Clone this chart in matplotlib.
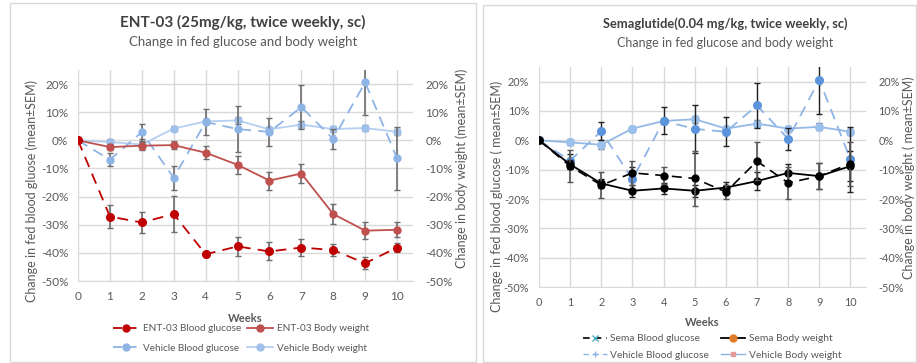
import matplotlib
matplotlib.use("Agg")
import matplotlib.pyplot as plt
from matplotlib.lines import Line2D
import numpy as np

plt.rcParams['font.family'] = ['Lato', 'DejaVu Sans']

weeks = list(range(11))
x_ticks = list(range(11))
y_ticks = [20, 10, 0, -10, -20, -30, -40, -50]

# ---- Left panel: ENT-03 ----
ent_bg = [0, -27.1, -29.2, -26.2, -40.5, -37.7, -39.5, -38.1, -39.0, -43.7, -38.1]
ent_bg_err = [0, 4.0, 3.7, 6.3, 1.0, 3.4, 3.2, 3.0, 2.0, 2.1, 1.7]
ent_bw = [0, -2.4, -1.9, -1.7, -4.4, -8.7, -14.3, -11.8, -26.2, -32.1, -31.8]
ent_bw_err = [0, 1.0, 1.2, 1.4, 2.4, 3.3, 3.2, 3.4, 3.4, 3.0, 2.7]
veh_bg_L = [0, -6.9, 2.9, -13.3, 6.5, 4.0, 3.0, 11.8, 0.5, 20.6, -6.4]
veh_bg_err_L = [0, 2.4, 3.0, 4.3, 4.6, 8.3, 4.9, 7.7, 3.7, 11.5, 11.2]
veh_bw_L = [0, -0.6, -1.5, 4.2, 6.7, 7.1, 3.9, 5.6, 4.0, 4.4, 3.0]
veh_bw_err_L = [0, 1.0, 2.0, 1.0, 1.0, 1.2, 1.0, 1.3, 1.0, 1.2, 1.0]

# ---- Right panel: Semaglutide ----
sema_bg = [0, -8.8, -15.3, -11.1, -12.0, -13.0, -17.6, -7.1, -14.5, -12.2, -7.9]
sema_bg_err = [0, 5.5, 4.5, 4.0, 3.0, 9.5, 2.5, 6.5, 5.5, 4.5, 7.5]
sema_bw = [0, -8.2, -14.7, -17.2, -16.4, -17.2, -16.1, -13.9, -11.1, -12.2, -8.8]
sema_bw_err = [0, 1.5, 1.5, 2.0, 2.0, 2.0, 2.0, 3.0, 3.0, 4.5, 5.0]
veh_bg_R = [0, -6.9, 3.1, -13.3, 6.6, 3.9, 2.9, 11.9, 0.5, 20.6, -6.5]
veh_bg_err_R = [0, 2.4, 3.0, 4.3, 4.6, 8.3, 4.9, 7.8, 3.7, 11.5, 11.2]
veh_bw_R = [0, -0.7, -1.5, 4.0, 6.6, 7.2, 4.0, 5.7, 4.0, 4.6, 2.9]
veh_bw_err_R = [0, 1.0, 1.5, 1.0, 1.0, 1.2, 1.0, 1.3, 1.0, 1.2, 1.0]

W, H = 917, 363
fig = plt.figure(figsize=(W / 100, H / 100), dpi=100)

TICK_C = '#595959'
GRID_C = '#d9d9d9'


def fx(px):
    return px / W


def fy(py):
    return 1 - py / H


def style_axes(ax, tsize, xl_y):
    ax.set_xlim(0, 10.5)
    ax.set_ylim(-50, 25)
    ax.set_xticks(x_ticks)
    ax.set_yticks(y_ticks)
    ax.set_yticklabels([f"{v}%" for v in y_ticks])
    ax.grid(True, color=GRID_C, linewidth=1.0)
    ax.set_axisbelow(True)
    for s in ['top', 'right', 'left']:
        ax.spines[s].set_visible(False)
    ax.spines['bottom'].set_color(GRID_C)
    ax.tick_params(length=0, colors=TICK_C, labelsize=tsize, pad=7)
    ax.set_xlabel('Weeks', color=TICK_C, fontsize=8, fontweight='bold')
    ax.xaxis.set_label_coords(0.5, xl_y)


def add_twin(ax, label, tsize, lsize, lx, ly):
    t = ax.twinx()
    t.set_ylim(-50, 25)
    t.set_yticks(y_ticks)
    t.set_yticklabels([f"{v}%" for v in y_ticks])
    for s in t.spines.values():
        s.set_visible(False)
    t.tick_params(length=0, colors=TICK_C, labelsize=tsize, pad=9)
    t.set_ylabel(label, color=TICK_C, fontsize=lsize, va='center')
    t.yaxis.set_label_coords(lx, ly)
    return t


def draw_panel_border(x0, y0, x1, y1):
    rect = plt.Rectangle((fx(x0), fy(y1)), fx(x1) - fx(x0), fy(y0) - fy(y1),
                         transform=fig.transFigure, fill=False,
                         edgecolor='#d9d9d9', linewidth=1.0)
    fig.add_artist(rect)


draw_panel_border(10, 3, 476, 362)
draw_panel_border(483, 5, 916, 362)

# ---------------- Left panel ----------------
axL = fig.add_axes([fx(78), fy(281), fx(413) - fx(78), fy(70) - fy(281)])
style_axes(axL, 8.5, -(313 - 281) / 211)
ebkw = dict(ecolor='#6d6d6d', elinewidth=1.2, capsize=2.5, capthick=1.0)

axL.errorbar(weeks, veh_bw_L, yerr=veh_bw_err_L, color='#b4cff0', lw=1.3,
             marker='o', ms=5, mec='#9fc0ea', mfc='#9fc0ea', zorder=3, **ebkw)
axL.errorbar(weeks, veh_bg_L, yerr=veh_bg_err_L, color='#8eb4e6', lw=1.3,
             ls=(0, (6, 4)), marker='o', ms=5, mec='#8eb4e6', mfc='#8eb4e6',
             zorder=4, **ebkw)
axL.errorbar(weeks, ent_bw, yerr=ent_bw_err, color='#c0504d', lw=1.3,
             marker='o', ms=5, zorder=5, **ebkw)
axL.errorbar(weeks, ent_bg, yerr=ent_bg_err, color='#c00000', lw=1.3,
             ls=(0, (6, 4)), marker='o', ms=5.5, zorder=6, **ebkw)
axL.set_ylabel('Change in fed blood gluose (mean±SEM)', color=TICK_C,
               fontsize=9, va='center')
axL.yaxis.set_label_coords((32 - 78) / 335, (281 - 191) / 211)
add_twin(axL, 'Change in body weight (mean±SEM)', 8.5, 9,
         (462 - 78) / 335, (281 - 168) / 211)

fig.text(fx(243), fy(22), 'ENT-03 (25mg/kg, twice weekly, sc)', ha='center',
         va='center', fontsize=11, fontweight='bold', color='#404040')
fig.text(fx(243), fy(42), 'Change in fed glucose and body weight', ha='center',
         va='center', fontsize=9.5, color='#595959')

hL = [
    Line2D([], [], color='#c00000', ls=(0, (5, 3)), marker='o', ms=5, lw=1.3),
    Line2D([], [], color='#c0504d', marker='o', ms=5, lw=1.3),
    Line2D([], [], color='#8eb4e6', ls=(0, (5, 3)), marker='o', ms=5, lw=1.3),
    Line2D([], [], color='#b4cff0', marker='o', ms=5, mfc='#9fc0ea', mec='#9fc0ea', lw=1.3),
]
labL = ['ENT-03 Blood glucose', 'Vehicle Blood glucose',
        'ENT-03 Body weight', 'Vehicle Body weight']
fig.legend([hL[0], hL[2], hL[1], hL[3]], labL, ncol=2, frameon=False,
           loc='center', bbox_to_anchor=(fx(241), fy(338.5)), fontsize=7.2,
           labelcolor=TICK_C, handlelength=2.6, columnspacing=0.5,
           handletextpad=0.4, labelspacing=1.05)

# ---------------- Right panel ----------------
axR = fig.add_axes([fx(539), fy(287), fx(866) - fx(539), fy(67) - fy(287)])
style_axes(axR, 7.8, -(317 - 287) / 220)
ebR_v = dict(ecolor='#555555', elinewidth=1.2, capsize=2.5, capthick=1.0)
ebR_s = dict(ecolor='#222222', elinewidth=1.0, capsize=2.5, capthick=1.0)

axR.errorbar(weeks, veh_bw_R, yerr=veh_bw_err_R, color='#95b9e6', lw=1.3,
             marker='o', ms=5.5, mec='#9cc0ec', mfc='#9cc0ec', zorder=3, **ebR_v)
axR.errorbar(weeks, veh_bg_R, yerr=veh_bg_err_R, color='#8eb4e6', lw=1.3,
             ls=(0, (6, 4)), marker='o', ms=5.5, mec='#5b94db', mfc='#5b94db',
             zorder=4, **ebR_s)
axR.errorbar(weeks, sema_bw, yerr=sema_bw_err, color='black', lw=1.3,
             marker='o', ms=5, zorder=5, **ebR_s)
axR.errorbar(weeks, sema_bg, yerr=sema_bg_err, color='black', lw=1.2,
             ls=(0, (6, 4)), marker='o', ms=5, zorder=6, **ebR_v)
axR.set_ylabel('Change in fed blood glucose ( mean±SEM)', color=TICK_C,
               fontsize=9, va='center')
axR.yaxis.set_label_coords((497 - 539) / 327, (287 - 196) / 220)
add_twin(axR, 'Change in body weight ( mean±SEM)', 7.8, 9,
         (909 - 539) / 327, (287 - 178) / 220)

fig.text(fx(725), fy(24), 'Semaglutide(0.04 mg/kg, twice weekly, sc)', ha='center',
         va='center', fontsize=9.3, fontweight='bold', color='#404040')
fig.text(fx(725), fy(43), 'Change in fed glucose and body weight', ha='center',
         va='center', fontsize=9, color='#595959')

hR = [
    Line2D([], [], color='black', ls=(0, (4, 3)), marker='x', ms=4,
           mec='#4bacc6', lw=1.2),
    Line2D([], [], color='#8eb4e6', ls=(0, (4, 3)), marker='+', ms=5, lw=1.0),
    Line2D([], [], color='black', marker='o', ms=5, mfc='#e07b28', mec='#e07b28', lw=1.3),
    Line2D([], [], color='#8eb4e6', marker='s', ms=2.5, mfc='#e59a9a', mec='#e59a9a', lw=1.0),
]
labR = ['Sema Blood glucose', 'Vehicle Blood glucose',
        'Sema Body weight', 'Vehicle Body weight']
fig.legend(hR, labR, ncol=2, frameon=False, loc='center',
           bbox_to_anchor=(fx(712), fy(347)), fontsize=7.4,
           labelcolor=TICK_C, handlelength=2.3, columnspacing=1.2,
           handletextpad=0.35, labelspacing=0.7)

fig.savefig('out.png', dpi=100)
